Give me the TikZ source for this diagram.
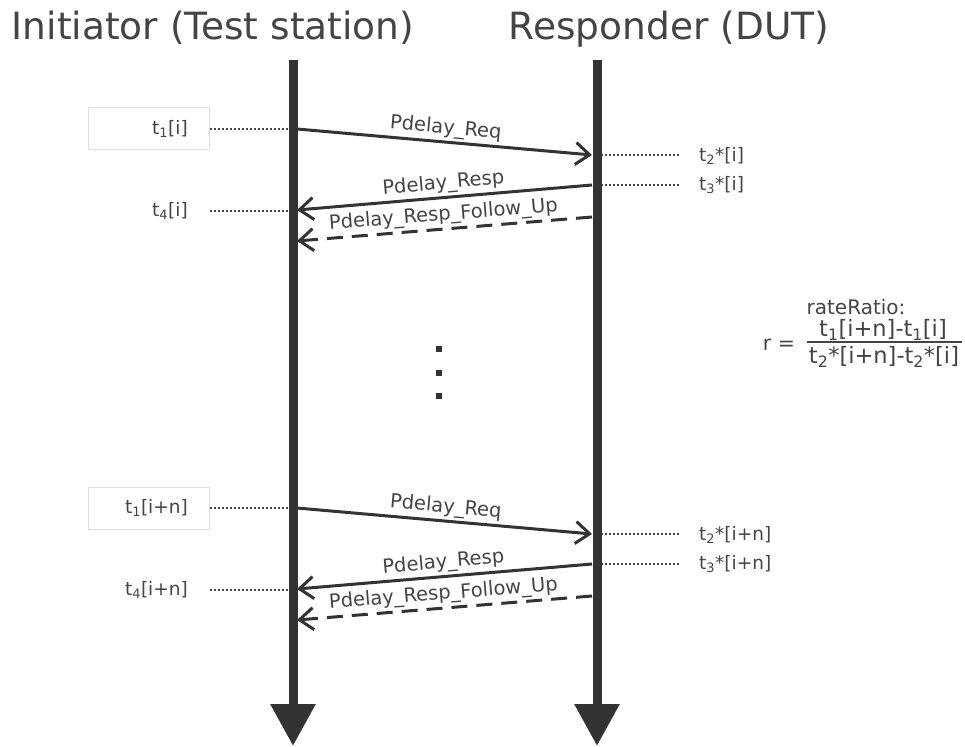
\documentclass[tikz,border=0pt]{standalone}
\usepackage{fontspec}
\setmainfont{DejaVu Sans}
\usetikzlibrary{arrows.meta}
\definecolor{ink}{HTML}{333333}
\definecolor{txt}{HTML}{444444}
\definecolor{frame}{HTML}{DDDDDD}
\begin{document}
\begin{tikzpicture}[x=1pt,y=-1pt,
  title/.style={font=\fontsize{37.5}{44}\selectfont, text=txt, inner sep=0pt, anchor=base},
  lbl/.style={font=\fontsize{18.5}{22}\selectfont, text=txt, inner sep=1pt},
  msglbl/.style={font=\fontsize{19.5}{23}\selectfont, text=txt, inner sep=1pt, sloped, above=1.5pt},
  fraclbl/.style={font=\fontsize{22.5}{26}\selectfont, text=txt, inner sep=0pt},
  msg/.style={draw=ink, line width=3pt, -{Straight Barb[length=14pt,width=22pt]}},
  lifeline/.style={draw=ink, line width=9pt, -{Triangle[length=42pt,width=43pt]}},
  tick/.style={draw=txt, line width=2pt, dash pattern=on 2pt off 2pt},
  stamp/.style={draw=frame, line width=1pt, minimum width=121pt, minimum height=42pt, inner sep=0pt},
  dotsq/.style={fill=ink, minimum size=6pt, inner sep=0pt},
  fracbar/.style={draw=txt, line width=1.5pt}
]
\useasboundingbox (0,0) rectangle (965,746);

% column headings
\node[title] (init) at (213,40) {Initiator (Test station)};
\node[title] (resp) at (669,40) {Responder (DUT)};

% lifelines
\coordinate (Ltop) at (293,60);
\coordinate (Lbot) at (293,746);
\coordinate (Rtop) at (597,60);
\coordinate (Rbot) at (597,746);

% two exchanges of the peer-delay messages
\foreach \o/\s/\tag in {0/a/{i}, 379/b/{i+n}} {
  % anchor points on the lifelines
  \coordinate (L1\s) at (297,129+\o);
  \coordinate (R2\s) at (592,155+\o);
  \coordinate (R3\s) at (592,185+\o);
  \coordinate (L4\s) at (297,210+\o);
  \coordinate (R5\s) at (592,217+\o);
  \coordinate (L6\s) at (297,241+\o);
  \coordinate (Lc1\s) at (293,129+\o);
  \coordinate (Lc4\s) at (293,211+\o);
  \coordinate (Rc2\s) at (597,155+\o);
  \coordinate (Rc3\s) at (597,185+\o);

  % timestamps
  \node[stamp] (box\s) at (148.5,129+\o) {};
  \node[lbl, anchor=east] (t1\s) at (189,129+\o) {t\textsubscript{1}[\tag]};
  \node[lbl, anchor=east] (t4\s) at (189,211+\o) {t\textsubscript{4}[\tag]};
  \node[lbl, anchor=west] (t2\s) at (698,156+\o) {t\textsubscript{2}*[\tag]};
  \node[lbl, anchor=west] (t3\s) at (698,185+\o) {t\textsubscript{3}*[\tag]};

  \draw[tick] (box\s.east |- Lc1\s) -- (Lc1\s);
  \draw[tick] (box\s.east |- Lc4\s) -- (Lc4\s);
  \draw[tick] (Rc2\s) -- ([xshift=-18pt]t2\s.west |- Rc2\s);
  \draw[tick] (Rc3\s) -- ([xshift=-18pt]t3\s.west |- Rc3\s);
}

\draw[lifeline] (Ltop) -- (Lbot);
\draw[lifeline] (Rtop) -- (Rbot);

\foreach \s in {a,b} {
  \draw[msg] (L1\s) -- node[msglbl] (req\s) {Pdelay\_Req} (R2\s);
  \draw[msg] (R3\s) -- node[msglbl] (rsp\s) {Pdelay\_Resp} (L4\s);
  \draw[msg, dash pattern=on 16pt off 9pt] (R5\s) -- node[msglbl] (fup\s) {Pdelay\_Resp\_Follow\_Up} (L6\s);
}

% vertical ellipsis
\node[dotsq] (d1) at (439,349) {};
\node[dotsq] (d2) at (439,373) {};
\node[dotsq] (d3) at (439,396) {};

% rate ratio formula
\node[lbl, inner sep=0pt, font=\fontsize{20}{24}\selectfont] (rr) at (856,307) {rateRatio:};
\node[lbl, font=\fontsize{20.5}{24}\selectfont] (req) at (779,345) {r =};
\node[fraclbl] (num) at (883,330) {t\textsubscript{1}[i+n]-t\textsubscript{1}[i]};
\node[fraclbl] (den) at (884,357) {t\textsubscript{2}*[i+n]-t\textsubscript{2}*[i]};
\coordinate (barL) at (807,342);
\coordinate (barR) at (962,342);
\draw[fracbar] (barL) -- (barR);
\end{tikzpicture}
\end{document}
